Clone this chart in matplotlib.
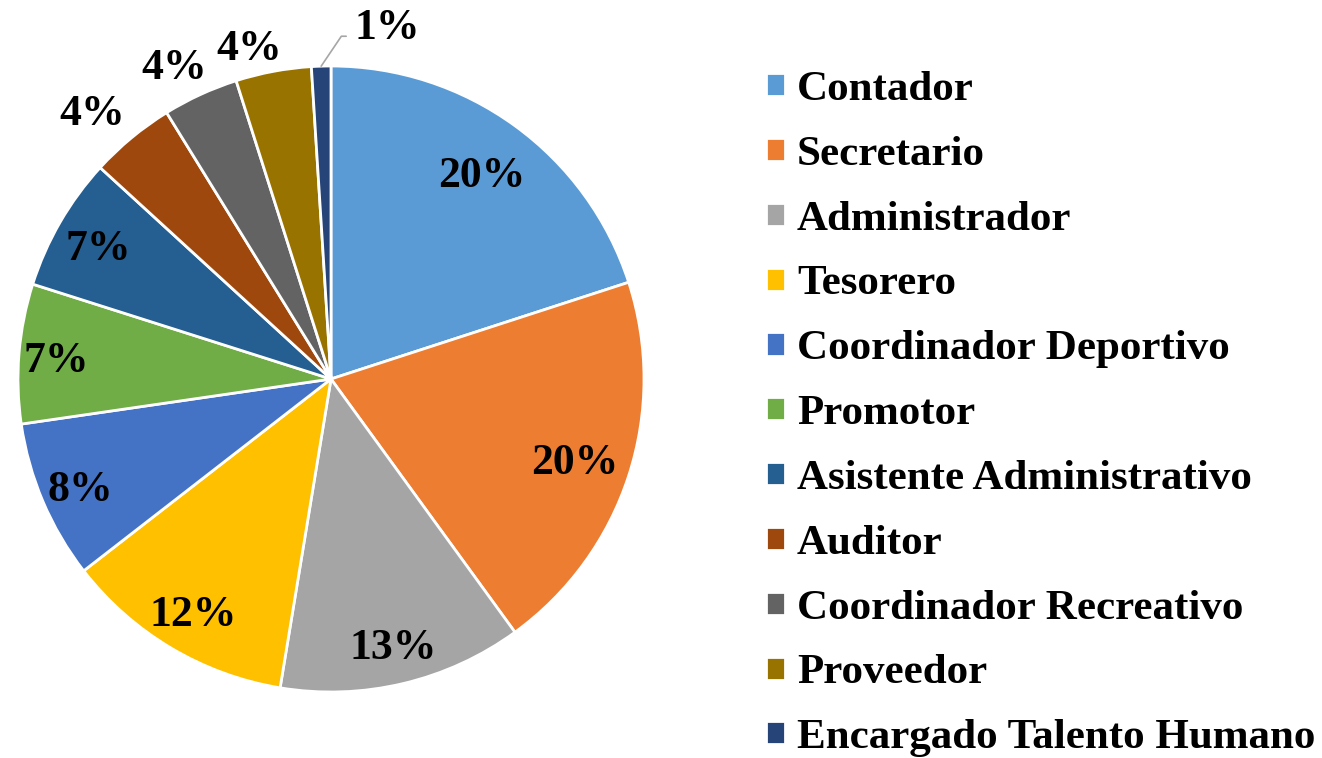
import matplotlib.pyplot as plt
import numpy as np

plt.rcParams['font.family'] = ['Liberation Serif', 'DejaVu Serif']
plt.rcParams['font.weight'] = 'bold'

cargos = ['Contador', 'Secretario', 'Administrador', 'Tesorero',
          'Coordinador Deportivo', 'Promotor', 'Asistente Administrativo',
          'Auditor', 'Coordinador Recreativo', 'Proveedor',
          'Encargado Talento Humano']
porcentajes = [20.0, 20.0, 12.6, 11.9, 8.2, 7.2, 6.9, 4.4, 3.9, 3.9, 1.0]
colores = ['#5B9BD5', '#ED7D31', '#A5A5A5', '#FFC000', '#4472C4', '#70AD47',
           '#255E91', '#9E480E', '#636363', '#997300', '#264478']

fig = plt.figure(figsize=(13.22, 7.58), dpi=100)
ax = fig.add_axes([18 / 1322, 66 / 758, 626 / 1322, 626 / 758])

wedges, _ = ax.pie(porcentajes, colors=colores, startangle=90, counterclock=False,
                   wedgeprops=dict(edgecolor='white', linewidth=2))
ax.set_xlim(-1, 1)
ax.set_ylim(-1, 1)

# label distance from the centre (radius = 1) and small angle nudge (degrees)
dist = [0.82, 0.82, 0.87, 0.86, 0.87, 0.88, 0.86, 1.15, 1.125, 1.10]
nudge = [0, 0, 0, 0, 0, 0, 0, 2.0, 1.8, 3.2]
for w, p, d, n in zip(wedges[:-1], porcentajes[:-1], dist, nudge):
    ang = np.deg2rad((w.theta1 + w.theta2) / 2 + n)
    ax.text(d * np.cos(ang), d * np.sin(ang), f'{p:.0f}%', ha='center',
            va='center_baseline', fontsize=31.5, fontweight='bold', clip_on=False)

w = wedges[-1]
ang = np.deg2rad((w.theta1 + w.theta2) / 2)
ax.annotate(f'{porcentajes[-1]:.0f}%', xy=(np.cos(ang), np.sin(ang)), xytext=(0.18, 1.135),
            ha='center', va='center_baseline', fontsize=31.5, fontweight='bold',
            annotation_clip=False,
            arrowprops=dict(arrowstyle='-', color='#A6A6A6', lw=1.2, relpos=(0, 0.3),
                            shrinkA=4, shrinkB=0,
                            connectionstyle='angle,angleA=180,angleB=56,rad=0'))

fig.legend(wedges, cargos, loc='upper left', bbox_to_anchor=(765.5 / 1322, 1 - 71 / 758),
           frameon=False, handlelength=0.45, handleheight=0.45,
           handletextpad=0.28, labelspacing=0.623, borderpad=0, borderaxespad=0,
           prop=dict(weight='bold', size=31))

fig.savefig('out.png', dpi=100)
